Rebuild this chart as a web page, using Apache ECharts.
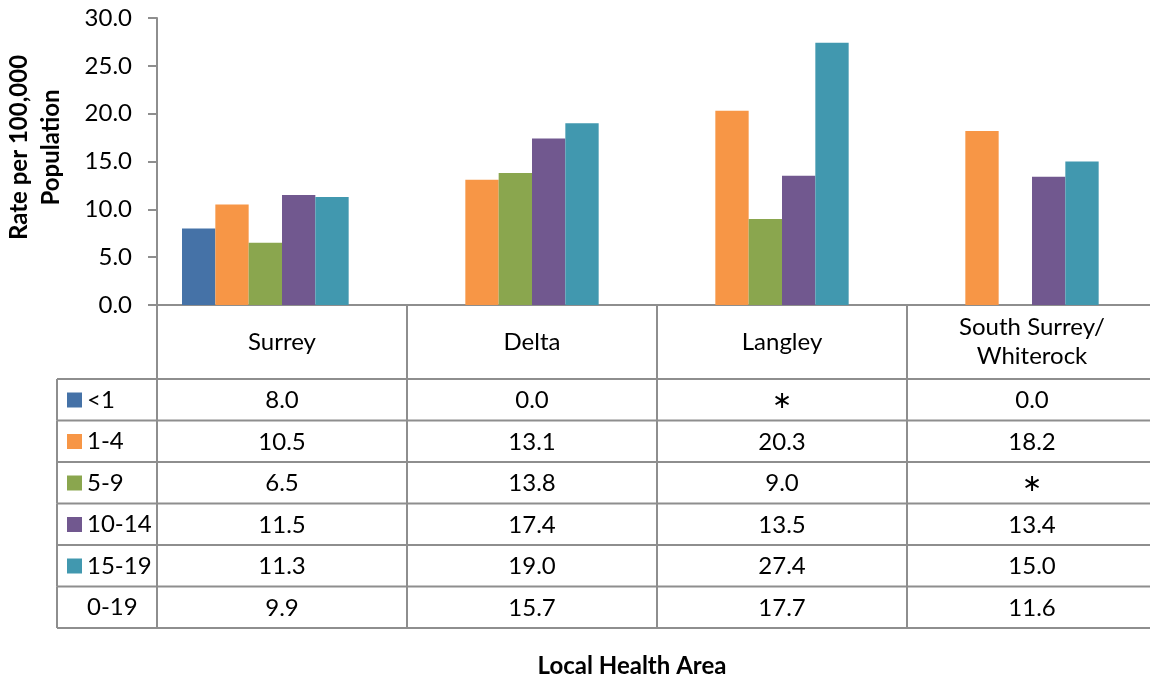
<!DOCTYPE html>
<html>
<head>
<meta charset="utf-8">
<script src="https://cdn.jsdelivr.net/npm/echarts@6/dist/echarts.min.js"></script>
<style>
  html, body { margin: 0; padding: 0; background: #fff; }
  #chart { width: 1150px; height: 681px; }
</style>
</head>
<body>
<div id="chart"></div>
<script>
// 各地区 0-19 岁比率 + 数据表
var categories = ["Surrey", "Delta", "Langley", "South Surrey/\nWhiterock"];
var seriesNames = ["<1", "1-4", "5-9", "10-14", "15-19", "0-19"];
var lt1 = [8.0, 0.0, null, 0.0];        // null = "*"
var age1to4 = [10.5, 13.1, 20.3, 18.2];
var age5to9 = [6.5, 13.8, 9.0, null];
var age10to14 = [11.5, 17.4, 13.5, 13.4];
var age15to19 = [11.3, 19.0, 27.4, 15.0];
var age0to19 = [9.9, 15.7, 17.7, 11.6];
var yTicks = [0, 5, 10, 15, 20, 25, 30];

var allRows = [lt1, age1to4, age5to9, age10to14, age15to19, age0to19];
var colors = ["#4572A7", "#F79646", "#8AA64E", "#71588F", "#4198AF", "transparent"];

var FONT = "Lato";
var LINE = "#8e8e8e";
var HEAD_H = 74;   // 表头行高
var ROW_H = 41.5;  // 数据行高
var LABEL_W = 100; // 左侧标签列宽

var chart = echarts.init(document.getElementById("chart"));

var barSeries = seriesNames.map(function (name, i) {
  return {
    name: name,
    type: "bar",
    barGap: "0%",
    barCategoryGap: "20%",
    silent: true,
    itemStyle: { color: colors[i] },
    data: allRows[i]
  };
});

// 表格单元格：[列, 行]
var cellData = [];
allRows.forEach(function (row, r) {
  row.forEach(function (v, c) {
    cellData.push([c, r]);
  });
});

function hLine(x1, x2, y) {
  return { type: "line", shape: { x1: x1, y1: y, x2: x2, y2: y }, style: { stroke: LINE, lineWidth: 2 } };
}
function vLine(x, y1, y2) {
  return { type: "line", shape: { x1: x, y1: y1, x2: x, y2: y2 }, style: { stroke: LINE, lineWidth: 2 } };
}

var tableSeries = {
  type: "custom",
  silent: true,
  clip: false,
  z: 5,
  data: cellData,
  renderItem: function (params, api) {
    var c = api.value(0), r = api.value(1);
    var base = api.coord([c, 0]);
    var w = api.size([1, 0])[0];
    var x0 = base[0] - w / 2, x1 = base[0] + w / 2;
    var top = base[1] + HEAD_H + r * ROW_H, bot = top + ROW_H;
    var v = allRows[r][c];
    var children = [
      {
        type: "text",
        style: {
          x: base[0], y: (top + bot) / 2 + 1,
          text: v == null ? "\u2217" : v.toFixed(1),
          align: "center", verticalAlign: "middle",
          font: "24px " + FONT, fill: "#000"
        }
      },
      hLine(x0, x1, bot),
      vLine(x1, top, bot)
    ];
    if (r === 0) children.push(hLine(x0, x1, top));
    if (c === 0) {
      children.push(vLine(x0, top, bot));
      children.push(vLine(x0 - LABEL_W, top, bot));
      children.push(hLine(x0 - LABEL_W, x0, bot));
      if (r === 0) children.push(hLine(x0 - LABEL_W, x0, top));
    }
    return { type: "group", children: children };
  }
};

chart.setOption({
  animation: false,
  textStyle: { fontFamily: FONT },
  grid: { left: 157, top: 18, width: 1000, height: 287, outerBoundsMode: "none", containLabel: false },
  legend: {
    orient: "vertical",
    left: 67,
    top: 388,
    padding: 0,
    icon: "rect",
    itemWidth: 15,
    itemHeight: 15,
    itemGap: 17.5,
    selectedMode: false,
    data: seriesNames,
    textStyle: { fontSize: 24, color: "#000", lineHeight: 24, fontFamily: FONT }
  },
  xAxis: {
    type: "category",
    data: categories,
    axisLine: { lineStyle: { color: LINE, width: 2 } },
    axisTick: { show: true, interval: 0, length: HEAD_H, lineStyle: { color: LINE, width: 2 } },
    axisLabel: {
      interval: 0,
      margin: 37,
      verticalAlign: "middle",
      color: "#000",
      fontSize: 24,
      lineHeight: 29,
      fontFamily: FONT
    }
  },
  yAxis: {
    type: "value",
    min: yTicks[0],
    max: yTicks[yTicks.length - 1],
    interval: yTicks[1] - yTicks[0],
    name: "Rate per 100,000\nPopulation",
    nameLocation: "middle",
    nameRotate: 90,
    nameGap: 90,
    nameTextStyle: { fontSize: 24, fontWeight: "bold", color: "#000", lineHeight: 32, fontFamily: FONT, padding: [0, 0, 0, 28] },
    axisLine: { show: true, lineStyle: { color: LINE, width: 2 } },
    axisTick: { show: true, length: 9, lineStyle: { color: LINE, width: 2 } },
    splitLine: { show: false },
    axisLabel: {
      margin: 25,
      color: "#000",
      fontSize: 24,
      fontFamily: FONT,
      formatter: function (v) { return v.toFixed(1); }
    }
  },
  graphic: [{
    type: "text",
    x: 632,
    y: 666,
    style: {
      text: "Local Health Area",
      align: "center",
      verticalAlign: "middle",
      font: "bold 24px " + FONT,
      fill: "#000"
    }
  }],
  series: barSeries.concat([tableSeries])
});
</script>
</body>
</html>
